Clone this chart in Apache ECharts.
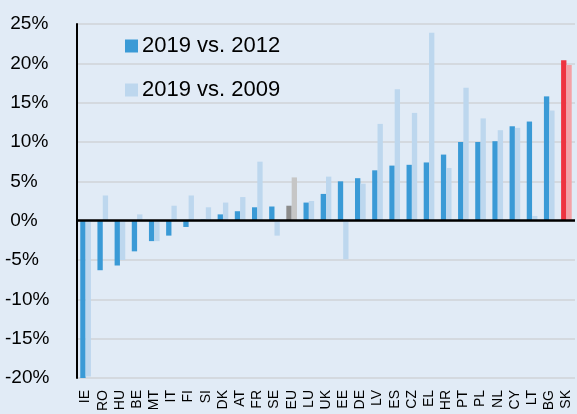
<!DOCTYPE html>
<html>
<head>
<meta charset="utf-8">
<script src="https://cdn.jsdelivr.net/npm/echarts@6/dist/echarts.min.js"></script>
<style>
  html, body { margin: 0; padding: 0; background: #e1ebf6; }
  #chart { width: 577px; height: 414px; }
</style>
</head>
<body>
<div id="chart"></div>
<script>
const categories = ['IE', 'RO', 'HU', 'BE', 'MT', 'IT', 'FI', 'SI', 'DK', 'AT', 'FR', 'SE', 'EU', 'LU', 'UK',
  'EE', 'DE', 'LV', 'ES', 'CZ', 'EL', 'HR', 'PT', 'PL', 'NL', 'CY', 'LT', 'BG', 'SK']
const vs2012 = [-20.6, -6.3, -5.7, -3.9, -2.6, -1.9, -0.8, 0.15, 0.8, 1.2, 1.7, 1.8, 1.9, 2.3, 3.4,
  5.0, 5.4, 6.4, 7.0, 7.1, 7.4, 8.4, 10.0, 10.0, 10.1, 12.0, 12.6, 15.8, 20.4]
const vs2009 = [-19.8, 3.2, -5.0, 0.8, -2.6, 1.9, 3.2, 1.7, 2.3, 3.0, 7.5, -1.9, 5.5, 2.5, 5.6,
  -4.9, 4.7, 12.3, 16.7, 13.7, 23.9, 6.7, 16.9, 13.0, 11.5, 11.8, 0.6, 14.0, 19.8]
const seriesNames = ['2019 vs. 2012', '2019 vs. 2009']

// highlighted bars: EU average in grey, SK in red
const colors = {
  main: ['#3a9ad6', '#bdd7ee'],
  EU: ['#8c8c8c', '#c6c6c6'],
  SK: ['#ee3340', '#f4a1a6']
}

function barData(values, idx) {
  return values.map((v, i) => {
    const c = colors[categories[i]]
    return c ? { value: v, itemStyle: { color: c[idx] } } : v
  })
}

const font = 'Liberation Sans, Arial, sans-serif'
const chart = echarts.init(document.getElementById('chart'))
chart.setOption({
  backgroundColor: '#e1ebf6',
  animation: false,
  color: colors.main,
  grid: { left: 77, right: 2, top: 24, bottom: 32, containLabel: false },
  legend: {
    orient: 'vertical',
    left: 125,
    top: 35,
    padding: 0,
    itemWidth: 13,
    itemHeight: 13,
    itemGap: 22,
    icon: 'rect',
    textStyle: {
      fontFamily: font,
      fontSize: 22,
      color: '#000',
      padding: [0, 0, 0, -1]
    },
    data: seriesNames
  },
  xAxis: {
    type: 'category',
    data: categories,
    axisLine: { show: false },
    axisTick: { show: false },
    axisLabel: {
      interval: 0,
      rotate: 90,
      margin: 12,
      fontSize: 14,
      color: '#000',
      fontFamily: font
    }
  },
  yAxis: {
    type: 'value',
    min: -20,
    max: 25,
    interval: 5,
    axisLine: { show: true, lineStyle: { color: '#000', width: 2 } },
    axisTick: { show: false },
    splitLine: { lineStyle: { color: '#d4d9df', width: 2 } },
    axisLabel: {
      align: 'left',
      margin: 72,
      fontSize: 19,
      color: '#000',
      fontFamily: font,
      formatter: v => (v < 0 ? '' : ' ') + v + '%'
    }
  },
  series: [
    {
      name: seriesNames[0],
      type: 'bar',
      barGap: '0%',
      barCategoryGap: '38%',
      data: barData(vs2012, 0),
      markLine: {
        silent: true,
        symbol: 'none',
        label: { show: false },
        lineStyle: { color: '#000', width: 2.5, type: 'solid' },
        data: [{ yAxis: 0 }]
      }
    },
    {
      name: seriesNames[1],
      type: 'bar',
      data: barData(vs2009, 1)
    }
  ]
})
</script>
</body>
</html>
